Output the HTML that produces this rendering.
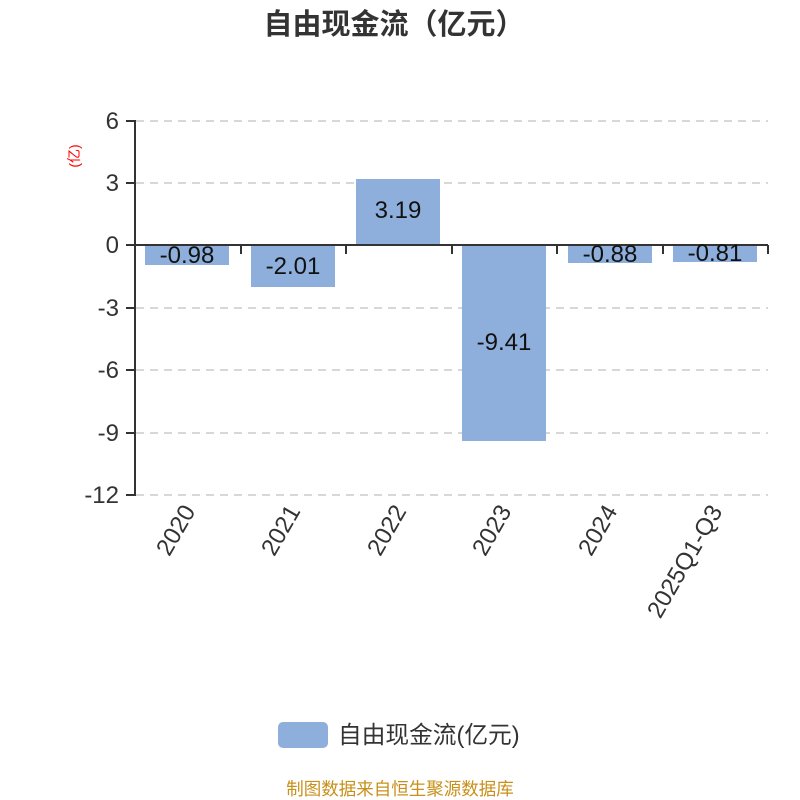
<!DOCTYPE html>
<html><head><meta charset="utf-8"><style>
html,body{margin:0;padding:0;background:#fff;}
svg{display:block;font-family:"Liberation Sans","Noto Sans CJK SC",sans-serif;}
</style></head><body>
<svg width="800" height="800" viewBox="0 0 800 800">
<text x="394" y="34" text-anchor="middle" font-size="29" font-weight="bold" fill="#333">自由现金流（亿元）</text>
<text transform="translate(79,156) rotate(-90)" text-anchor="middle" font-size="14" fill="#f00">(亿)</text>
<g stroke="#ccc" stroke-width="1.5" stroke-dasharray="8,6">
<line x1="136" y1="121" x2="768" y2="121"/>
<line x1="136" y1="183" x2="768" y2="183"/>
<line x1="136" y1="308" x2="768" y2="308"/>
<line x1="136" y1="370" x2="768" y2="370"/>
<line x1="136" y1="433" x2="768" y2="433"/>
<line x1="136" y1="495" x2="768" y2="495"/>
</g>
<g fill="#8eaedb">
<rect x="145" y="245" width="84" height="20"/>
<rect x="251" y="245" width="84" height="42"/>
<rect x="356" y="179" width="84" height="66"/>
<rect x="462" y="245" width="84" height="196"/>
<rect x="568" y="245" width="84" height="18"/>
<rect x="673" y="245" width="84" height="17"/>
</g>
<g stroke="#333" stroke-width="2" fill="none">
<line x1="135" y1="120" x2="135" y2="496"/>
<line x1="126" y1="121" x2="135" y2="121"/>
<line x1="126" y1="183" x2="135" y2="183"/>
<line x1="126" y1="245" x2="135" y2="245"/>
<line x1="126" y1="308" x2="135" y2="308"/>
<line x1="126" y1="370" x2="135" y2="370"/>
<line x1="126" y1="433" x2="135" y2="433"/>
<line x1="126" y1="495" x2="135" y2="495"/>
<line x1="135" y1="245" x2="768" y2="245"/>
<line x1="241" y1="245" x2="241" y2="254"/>
<line x1="346" y1="245" x2="346" y2="254"/>
<line x1="452" y1="245" x2="452" y2="254"/>
<line x1="557" y1="245" x2="557" y2="254"/>
<line x1="663" y1="245" x2="663" y2="254"/>
<line x1="768" y1="245" x2="768" y2="254"/>
</g>
<g font-size="24" fill="#333" text-anchor="end">
<text x="119" y="129">6</text>
<text x="119" y="191">3</text>
<text x="119" y="253">0</text>
<text x="119" y="316">-3</text>
<text x="119" y="378">-6</text>
<text x="119" y="441">-9</text>
<text x="119" y="503">-12</text>
</g>
<g font-size="24" fill="#111" text-anchor="middle">
<text x="187" y="263">-0.98</text>
<text x="293" y="274">-2.01</text>
<text x="398" y="218">3.19</text>
<text x="504" y="350">-9.41</text>
<text x="610" y="262">-0.88</text>
<text x="715" y="261">-0.81</text>
</g>
<g font-size="24" fill="#333" text-anchor="end">
<text transform="translate(196,511) rotate(-60)">2020</text>
<text transform="translate(301,511) rotate(-60)">2021</text>
<text transform="translate(407,511) rotate(-60)">2022</text>
<text transform="translate(512,511) rotate(-60)">2023</text>
<text transform="translate(618,511) rotate(-60)">2024</text>
<text transform="translate(723,511) rotate(-60)">2025Q1-Q3</text>
</g>
<rect x="278" y="722" width="50" height="26" rx="5" fill="#8eaedb"/>
<text x="338" y="743" font-size="23.7" fill="#333">自由现金流(亿元)</text>
<text x="400" y="795" text-anchor="middle" font-size="17.5" fill="#c8901a">制图数据来自恒生聚源数据库</text>
</svg>
</body></html>
